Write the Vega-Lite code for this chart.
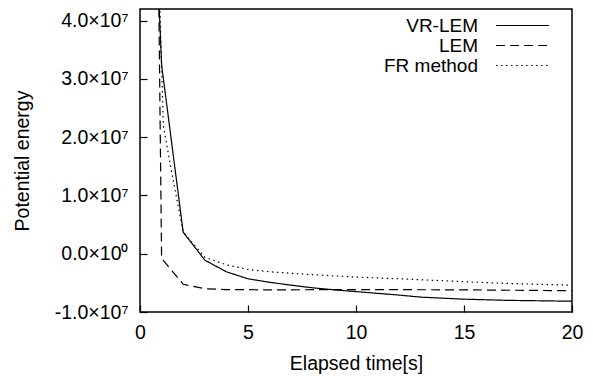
{
  "$schema": "https://vega.github.io/schema/vega-lite/v6.json",
  "width": 432,
  "height": 303,
  "autosize": {"type": "none"},
  "padding": {"left": 140, "top": 9, "right": 21, "bottom": 64},
  "background": "white",
  "config": {
    "font": "Liberation Sans",
    "view": {"stroke": "black", "strokeWidth": 1.5},
    "axis": {
      "grid": false,
      "domain": false,
      "ticks": true,
      "tickColor": "black",
      "tickWidth": 1.2,
      "labelColor": "black",
      "titleColor": "black",
      "labelFontSize": 19.5,
      "titleFontSize": 19.5,
      "titleFontWeight": "normal",
      "tickSize": 7,
      "offset": -7
    }
  },
  "data": {
    "values": [
      {"series": "VR-LEM", "t": 0, "e": 120000000},
      {"series": "VR-LEM", "t": 1, "e": 32400000},
      {"series": "VR-LEM", "t": 2, "e": 3700000},
      {"series": "VR-LEM", "t": 3, "e": -1100000},
      {"series": "VR-LEM", "t": 4, "e": -3100000},
      {"series": "VR-LEM", "t": 5, "e": -4300000},
      {"series": "VR-LEM", "t": 6, "e": -4900000},
      {"series": "VR-LEM", "t": 7, "e": -5400000},
      {"series": "VR-LEM", "t": 8, "e": -5850000},
      {"series": "VR-LEM", "t": 9, "e": -6200000},
      {"series": "VR-LEM", "t": 10, "e": -6500000},
      {"series": "VR-LEM", "t": 12, "e": -7100000},
      {"series": "VR-LEM", "t": 13, "e": -7450000},
      {"series": "VR-LEM", "t": 15, "e": -7800000},
      {"series": "VR-LEM", "t": 17, "e": -8000000},
      {"series": "VR-LEM", "t": 20, "e": -8150000},
      {"series": "LEM", "t": 0, "e": 340000000},
      {"series": "LEM", "t": 1, "e": -800000},
      {"series": "LEM", "t": 2, "e": -5250000},
      {"series": "LEM", "t": 3, "e": -6000000},
      {"series": "LEM", "t": 4, "e": -6150000},
      {"series": "LEM", "t": 6, "e": -6200000},
      {"series": "LEM", "t": 10, "e": -6150000},
      {"series": "LEM", "t": 15, "e": -6200000},
      {"series": "LEM", "t": 20, "e": -6350000},
      {"series": "FR method", "t": 0, "e": 160000000},
      {"series": "FR method", "t": 1.08, "e": 22000000},
      {"series": "FR method", "t": 1.45, "e": 14300000},
      {"series": "FR method", "t": 2, "e": 3700000},
      {"series": "FR method", "t": 3, "e": -600000},
      {"series": "FR method", "t": 4, "e": -1900000},
      {"series": "FR method", "t": 5, "e": -2700000},
      {"series": "FR method", "t": 6, "e": -3100000},
      {"series": "FR method", "t": 8, "e": -3600000},
      {"series": "FR method", "t": 10, "e": -4000000},
      {"series": "FR method", "t": 12, "e": -4300000},
      {"series": "FR method", "t": 15, "e": -4800000},
      {"series": "FR method", "t": 17, "e": -5100000},
      {"series": "FR method", "t": 20, "e": -5400000}
    ]
  },
  "mark": {"type": "line", "clip": true, "color": "black", "strokeWidth": 1.2},
  "encoding": {
    "x": {
      "field": "t",
      "type": "quantitative",
      "scale": {"domain": [0, 20], "nice": false, "zero": false},
      "axis": {
        "values": [0, 5, 10, 15, 20],
        "title": "Elapsed time[s]",
        "labelPadding": 11,
        "labelFlush": false,
        "titleY": 64,
        "titleBaseline": "alphabetic"
      }
    },
    "y": {
      "field": "e",
      "type": "quantitative",
      "scale": {"domain": [-10000000, 42000000], "nice": false, "zero": false},
      "axis": {
        "values": [-10000000, 0, 10000000, 20000000, 30000000, 40000000],
        "labelExpr": "datum.value == 0 ? '0.0×10⁰' : (datum.value < 0 ? '-' : '') + format(abs(datum.value) / 10000000, '.1f') + '×10⁷'",
        "title": "Potential energy",
        "labelPadding": 12,
        "titleX": -119,
        "titleBaseline": "alphabetic"
      }
    },
    "strokeDash": {
      "field": "series",
      "type": "nominal",
      "scale": {"domain": ["VR-LEM", "LEM", "FR method"], "range": [[1, 0], [9, 5], [1.5, 3.5]]},
      "legend": {
        "title": null,
        "orient": "none",
        "legendX": 373,
        "legendY": 7,
        "padding": 0,
        "symbolType": "M-3.3,0H3.3",
        "symbolSize": 256,
        "symbolStrokeWidth": 1.2,
        "symbolStrokeColor": "black",
        "labelFontSize": 19,
        "labelColor": "black",
        "labelAlign": "right",
        "labelOffset": -54,
        "rowPadding": -7
      }
    }
  }
}
